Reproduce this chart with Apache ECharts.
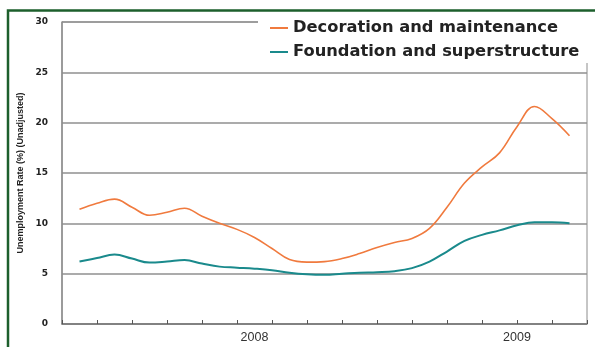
<!DOCTYPE html>
<html>
<head>
<meta charset="utf-8">
<script src="https://cdn.jsdelivr.net/npm/echarts@6/dist/echarts.min.js"></script>
<style>
  html, body { margin: 0; padding: 0; background: #fff; }
  #chart { width: 595px; height: 347px; }
</style>
</head>
<body>
<div id="chart"></div>
<script>
  // half-step positions; ticks fall on every second one
  let categories = ['', '', '', '', '', '', '', '', '', '', '', '2008', '', '', '', '',
    '', '', '', '', '', '', '', '', '', '', '2009', '', '', '', '']
  let decoration = [null, 11.4, 12.0, 12.4, 11.6, 10.8, 11.1, 11.5, 10.7, 10.0, 9.4,
    8.6, 7.5, 6.4, 6.15, 6.2, 6.5, 7.0, 7.6, 8.1, 8.5,
    9.5, 11.6, 14.0, 15.6, 17.0, 19.6, 21.6, 20.4, 18.7, null]
  let foundation = [null, 6.2, 6.55, 6.9, 6.5, 6.1, 6.2, 6.35, 6.0, 5.7, 5.6,
    5.5, 5.35, 5.1, 4.95, 4.9, 5.0, 5.1, 5.15, 5.25, 5.55,
    6.2, 7.2, 8.25, 8.85, 9.3, 9.8, 10.1, 10.1, 10.0, null]
  let seriesNames = ['Decoration and maintenance', 'Foundation and superstructure']
  let yTicks = [0, 5, 10, 15, 20, 25, 30]

  let myChart = echarts.init(document.getElementById('chart'))
  let option = {
    backgroundColor: '#fff',
    animation: false,
    grid: {
      left: 62,
      right: 8,
      top: 22,
      bottom: 23,
      show: true,
      borderColor: '#8c8c8c',
      borderWidth: 1
    },
    legend: {
      data: seriesNames,
      orient: 'vertical',
      left: 258,
      top: 12,
      backgroundColor: '#fff',
      padding: [7, 37, 2, 12],
      itemGap: 6,
      itemWidth: 18,
      itemHeight: 2,
      icon: 'rect',
      textStyle: {
        fontFamily: 'DejaVu Sans',
        fontWeight: 'bold',
        fontSize: 16.3,
        lineHeight: 18,
        color: '#222'
      }
    },
    xAxis: {
      type: 'category',
      data: categories,
      boundaryGap: false,
      axisLine: { lineStyle: { color: '#7a7a7a', width: 1.5 } },
      axisTick: {
        inside: true,
        length: 4,
        interval: function (idx) { return idx % 2 === 0 },
        lineStyle: { color: '#555' }
      },
      axisLabel: {
        interval: 0,
        margin: 7,
        fontFamily: 'Liberation Sans',
        fontSize: 12.5,
        color: '#333'
      },
      splitLine: { show: false }
    },
    yAxis: {
      type: 'value',
      min: yTicks[0],
      max: yTicks[yTicks.length - 1],
      interval: 5,
      name: 'Unemployment Rate (%) (Unadjusted)',
      nameLocation: 'middle',
      nameGap: 31,
      nameTextStyle: {
        fontFamily: 'Liberation Sans',
        fontWeight: 'bold',
        fontSize: 9,
        color: '#222'
      },
      axisLine: { show: true, lineStyle: { color: '#8c8c8c', width: 1.5 } },
      axisTick: { show: false },
      axisLabel: {
        margin: 14,
        fontFamily: 'DejaVu Sans',
        fontWeight: 'bold',
        fontSize: 9,
        color: '#222'
      },
      splitLine: { show: true, lineStyle: { color: '#8f8f8f', width: 1.5 } }
    },
    graphic: [{
      type: 'rect',
      shape: { x: 8, y: 10.5, width: 700, height: 500 },
      style: { fill: null, stroke: '#1d5f2c', lineWidth: 2.5 },
      z: 100,
      silent: true
    }],
    series: [{
      name: seriesNames[0],
      type: 'line',
      data: decoration,
      smooth: 0.4,
      symbol: 'none',
      lineStyle: { color: '#f07a3e', width: 1.6 },
      itemStyle: { color: '#f07a3e' }
    }, {
      name: seriesNames[1],
      type: 'line',
      data: foundation,
      smooth: 0.4,
      symbol: 'none',
      lineStyle: { color: '#1a8a8c', width: 2 },
      itemStyle: { color: '#1a8a8c' }
    }]
  }
  myChart.setOption(option)
</script>
</body>
</html>
